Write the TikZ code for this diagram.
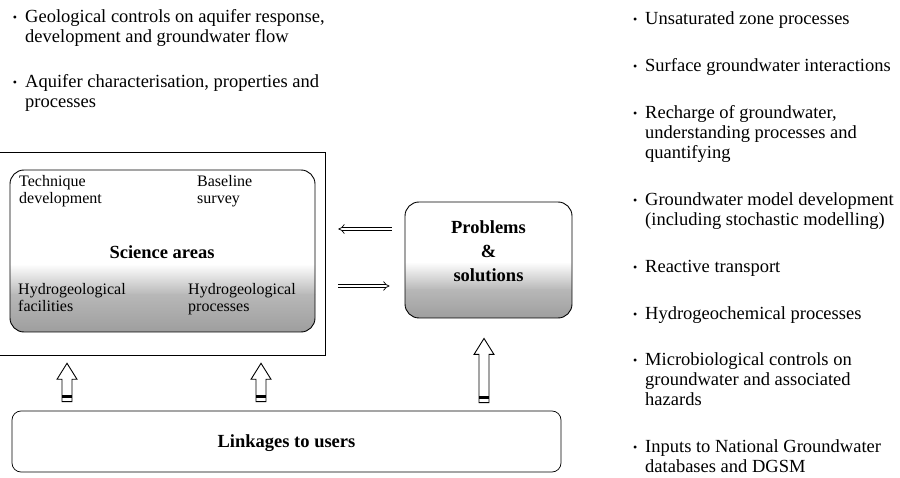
\documentclass[tikz,border=0pt]{standalone}
\usepackage{fontspec}
\setmainfont{Liberation Serif}
\usetikzlibrary{arrows.meta,calc}
\newcommand\stk[1]{\vtop{\halign{##\hfil\cr#1\crcr}}}
\newcommand\bul{\llap{{\fontsize{12}{12}\selectfont\raisebox{1pt}{•}}\hskip 8pt}}
% block arrow pointing up: #1 tail, #2 tip
\newcommand\upblock[2]{%
  \draw[blockarrow] let \p1=(#1), \p2=(#2) in
    (\x1-5pt,\y1) -- (\x1-5pt,\y2-16pt) -- (\x1-10pt,\y2-16pt) -- (\x1,\y2)
    -- (\x1+10pt,\y2-16pt) -- (\x1+5pt,\y2-16pt) -- (\x1+5pt,\y1) -- cycle;
  \fill let \p1=(#1) in (\x1-5pt,\y1+4pt) rectangle (\x1+5pt,\y1+6.5pt);}
\begin{document}
\begin{tikzpicture}[x=1pt,y=-1pt,
  bigtxt/.style={font=\fontsize{18.5}{20}\selectfont, inner sep=0, anchor=base west},
  lbl/.style={font=\fontsize{16}{16.5}\selectfont, inner sep=0, anchor=base west},
  ttl/.style={font=\bfseries\fontsize{18.5}{20}\selectfont, inner sep=0, anchor=base},
  rbox/.style={draw, line width=0.9pt, rounded corners=14pt, inner sep=0},
  blockarrow/.style={draw, fill=white, line width=0.9pt, line join=miter},
  harrow/.style={double, double distance=2.6pt, line width=0.7pt, -{Implies}}]
\useasboundingbox (0,0) rectangle (900,478);
\fill[white] (0,0) rectangle (900,478);

% left bullet list
\node[bigtxt] (g1) at (25,23) {\stk{\bul Geological controls on aquifer response,\cr development and groundwater flow}};
\node[bigtxt] (g2) at (25,88) {\stk{\bul Aquifer characterisation, properties and\cr processes}};

% right bullet list
\node[bigtxt] (r1) at (645,25) {\stk{\bul Unsaturated zone processes}};
\node[bigtxt] (r2) at (645,72) {\stk{\bul Surface groundwater interactions}};
\node[bigtxt] (r3) at (645,119) {\stk{\bul Recharge of groundwater,\cr understanding processes and\cr quantifying}};
\node[bigtxt] (r4) at (645,206) {\stk{\bul Groundwater model development\cr (including stochastic modelling)}};
\node[bigtxt] (r5) at (645,273) {\stk{\bul Reactive transport}};
\node[bigtxt] (r6) at (645,320) {\stk{\bul Hydrogeochemical processes}};
\node[bigtxt] (r7) at (645,366) {\stk{\bul Microbiological controls on\cr groundwater and associated\cr hazards}};
\node[bigtxt] (r8) at (645,452) {\stk{\bul Inputs to National Groundwater\cr databases and DGSM}};

% outer frame
\node[draw, line width=0.6pt, minimum width=327pt, minimum height=203pt, inner sep=0] (outer) at (161.5,253.5) {};

% science areas box
\begin{scope}
  \clip[rounded corners=14pt] (10,170) rectangle (315,332);
  \shade[top color=white, bottom color=black!28] (10,264) rectangle (315,295);
  \shade[top color=black!28, bottom color=black!38] (10,294.5) rectangle (315,332);
\end{scope}
\node[rbox, minimum width=305pt, minimum height=162pt] (sci) at (162.5,251) {};
\node[lbl] (tech) at (19,187) {\stk{Technique\cr development}};
\node[lbl] (base) at (197,187) {\stk{Baseline\cr survey}};
\node[ttl] (scit) at (162,259) {Science areas};
\node[lbl] (hf) at (18,295) {\stk{Hydrogeological\cr facilities}};
\node[lbl] (hp) at (188,295) {\stk{Hydrogeological\cr processes}};

% problems box
\begin{scope}
  \clip[rounded corners=14pt] (405,202) rectangle (572,318);
  \shade[top color=white, bottom color=black!28] (405,262) rectangle (572,290);
  \shade[top color=black!28, bottom color=black!38] (405,289.5) rectangle (572,318);
\end{scope}
\node[rbox, minimum width=167pt, minimum height=116pt] (prob) at (488.5,260) {};
\node[ttl] (pt1) at (488.5,234) {Problems};
\node[ttl] (pt2) at (488.5,258) {\&};
\node[ttl] (pt3) at (488.5,282) {solutions};

% linkages box
\node[rbox, line width=0.7pt, rounded corners=9pt, minimum width=549pt, minimum height=61pt] (link) at (286.5,441.5) {};
\node[ttl] (lt) at (286.5,447) {Linkages to users};

% horizontal arrows
\coordinate (ya) at (0,229);
\coordinate (yb) at (0,286);
\draw[harrow, shorten <=13pt, shorten >=13pt] (prob.west |- ya) -- (outer.east |- ya);
\draw[harrow, shorten <=13pt, shorten >=15pt] (outer.east |- yb) -- (prob.west |- yb);

% vertical block arrows
\coordinate (xa) at (67,0);
\coordinate (xb) at (261,0);
\coordinate (xc) at (484,0);
\upblock{$(link.north -| xa)+(0,-9)$}{$(outer.south -| xa)+(0,8)$}
\upblock{$(link.north -| xb)+(0,-9)$}{$(outer.south -| xb)+(0,8)$}
\upblock{$(link.north -| xc)+(0,-8)$}{$(prob.south -| xc)+(0,20)$}
\end{tikzpicture}
\end{document}
